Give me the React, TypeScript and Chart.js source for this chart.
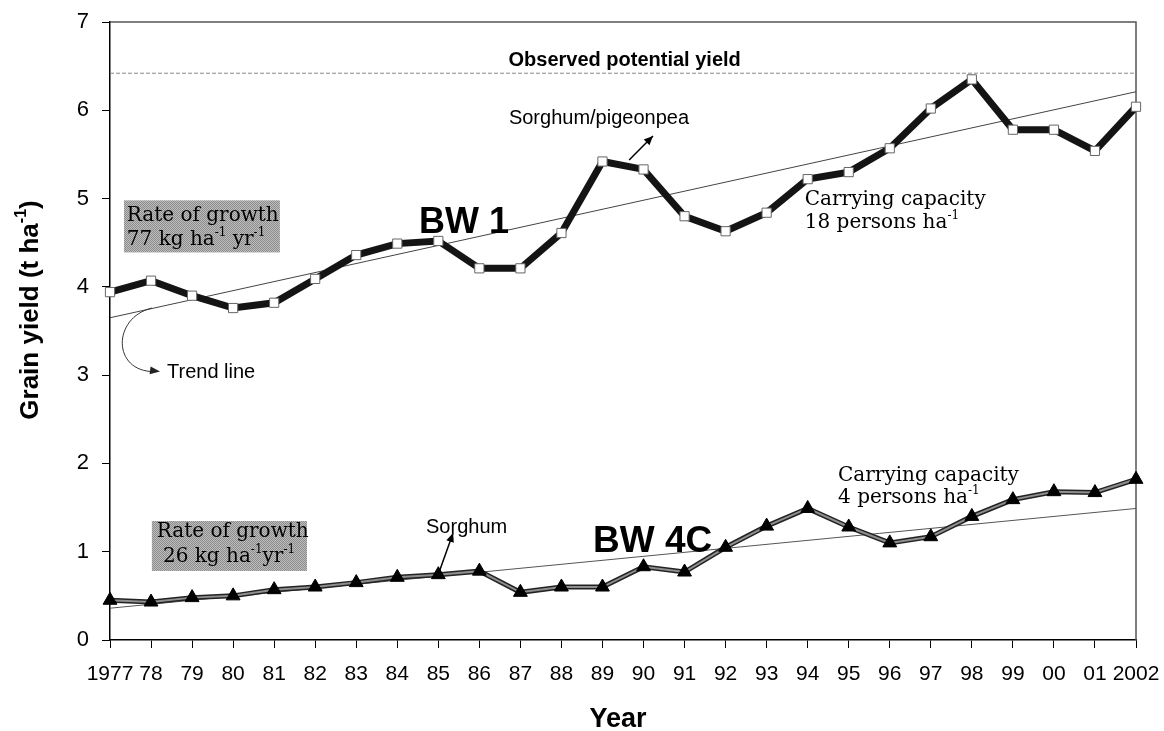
import React, { useEffect, useRef } from 'react';
import { Chart, registerables } from 'chart.js';

Chart.register(...registerables);

// ---------- data ----------
const years = [1977, 1978, 1979, 1980, 1981, 1982, 1983, 1984, 1985, 1986, 1987, 1988, 1989, 1990, 1991, 1992, 1993, 1994, 1995, 1996, 1997, 1998, 1999, 2000, 2001, 2002];
const yearLabels = ['1977', '78', '79', '80', '81', '82', '83', '84', '85', '86', '87', '88', '89', '90', '91', '92', '93', '94', '95', '96', '97', '98', '99', '00', '01', '2002'];
const bw1 = [3.94, 4.07, 3.90, 3.76, 3.82, 4.09, 4.36, 4.49, 4.52, 4.21, 4.21, 4.61, 5.42, 5.33, 4.80, 4.63, 4.84, 5.22, 5.30, 5.57, 6.02, 6.35, 5.78, 5.78, 5.54, 6.04];
const bw4c = [0.45, 0.43, 0.48, 0.50, 0.57, 0.60, 0.65, 0.71, 0.74, 0.78, 0.54, 0.60, 0.60, 0.83, 0.77, 1.05, 1.29, 1.49, 1.28, 1.10, 1.17, 1.40, 1.59, 1.68, 1.67, 1.82];
const trendYears = [1977, 2002];
const bw1Trend = [3.65, 6.21];
const bw4cTrend = [0.36, 1.49];
const potentialYield = 6.42;
const yTickValues = [0, 1, 2, 3, 4, 5, 6, 7];

const SANS = '"Liberation Sans", Arial, sans-serif';
const SERIF = '"DejaVu Serif", serif';

type Seg = { t: string; sup?: boolean };

function drawRich(ctx: CanvasRenderingContext2D, segs: Seg[], x: number, y: number, size: number, family: string, weight: string, align: 'left' | 'center' = 'left') {
  const main = `${weight} ${size}px ${family}`;
  const sup = `${weight} ${Math.round(size * 0.6)}px ${family}`;
  let w = 0;
  for (const s of segs) {
    ctx.font = s.sup ? sup : main;
    w += ctx.measureText(s.t).width;
  }
  let cx = align === 'center' ? x - w / 2 : x;
  ctx.textAlign = 'left';
  for (const s of segs) {
    ctx.font = s.sup ? sup : main;
    ctx.fillText(s.t, cx, s.sup ? y - size * 0.45 : y);
    cx += ctx.measureText(s.t).width;
  }
}

function arrowHead(ctx: CanvasRenderingContext2D, x0: number, y0: number, x1: number, y1: number, len = 9, half = 4) {
  const a = Math.atan2(y1 - y0, x1 - x0);
  ctx.beginPath();
  ctx.moveTo(x1, y1);
  ctx.lineTo(x1 - len * Math.cos(a) + half * Math.sin(a), y1 - len * Math.sin(a) - half * Math.cos(a));
  ctx.lineTo(x1 - len * Math.cos(a) - half * Math.sin(a), y1 - len * Math.sin(a) + half * Math.cos(a));
  ctx.closePath();
  ctx.fill();
}

let hatch: CanvasPattern | null = null;
function getHatch(ctx: CanvasRenderingContext2D) {
  if (hatch) return hatch;
  const c = document.createElement('canvas');
  c.width = 2; c.height = 2;
  const g = c.getContext('2d')!;
  g.fillStyle = '#bdbdbd'; g.fillRect(0, 0, 2, 2);
  g.fillStyle = '#8c8c8c'; g.fillRect(0, 0, 1, 1); g.fillRect(1, 1, 1, 1);
  hatch = ctx.createPattern(c, 'repeat');
  return hatch!;
}

const annotPlugin = {
  id: 'annot',
  beforeDatasetsDraw(chart: any) {
    const { ctx, chartArea: a } = chart;
    ctx.save();
    ctx.strokeStyle = '#555';
    ctx.lineWidth = 1.5;
    ctx.beginPath();
    ctx.moveTo(a.left, a.top);
    ctx.lineTo(a.right, a.top);
    ctx.lineTo(a.right, a.bottom);
    ctx.stroke();
    ctx.restore();
  },
  afterDatasetsDraw(chart: any) {
    const { ctx } = chart;
    const xs = chart.scales.x;
    const ys = chart.scales.y;
    const X = (v: number) => xs.getPixelForValue(v);
    const Y = (v: number) => ys.getPixelForValue(v);
    ctx.save();
    ctx.fillStyle = '#000';
    ctx.strokeStyle = '#000';
    ctx.textBaseline = 'alphabetic';

    // shaded boxes
    ctx.fillStyle = getHatch(ctx);
    ctx.fillRect(X(1977.34), Y(4.98), X(1981.14) - X(1977.34), Y(4.39) - Y(4.98));
    ctx.fillRect(X(1978.02), Y(1.348), X(1981.80) - X(1978.02), Y(0.782) - Y(1.348));
    ctx.fillStyle = '#000';

    // box texts
    drawRich(ctx, [{ t: 'Rate of growth' }], X(1977.41), Y(4.746), 20, SERIF, 'normal');
    drawRich(ctx, [{ t: '77 kg ha' }, { t: '-1' , sup: true }, { t: ' yr' }, { t: '-1', sup: true }], X(1977.41), Y(4.474), 20, SERIF, 'normal');
    drawRich(ctx, [{ t: 'Rate of growth' }], X(1978.14), Y(1.167), 20, SERIF, 'normal');
    drawRich(ctx, [{ t: '26 kg ha' }, { t: '-1', sup: true }, { t: 'yr' }, { t: '-1', sup: true }], X(1978.29), Y(0.883), 20, SERIF, 'normal');

    // carrying capacity
    drawRich(ctx, [{ t: 'Carrying capacity' }], X(1993.93), Y(4.927), 20, SERIF, 'normal');
    drawRich(ctx, [{ t: '18 persons ha' }, { t: '-1', sup: true }], X(1993.93), Y(4.667), 20, SERIF, 'normal');
    drawRich(ctx, [{ t: 'Carrying capacity' }], X(1994.74), Y(1.80), 20, SERIF, 'normal');
    drawRich(ctx, [{ t: '4 persons ha' }, { t: '-1', sup: true }], X(1994.74), Y(1.55), 20, SERIF, 'normal');

    // sans labels
    drawRich(ctx, [{ t: 'Observed potential yield' }], X(1989.54), Y(6.50), 20, SANS, 'bold', 'center');
    drawRich(ctx, [{ t: 'Sorghum/pigeonpea' }], X(1986.72), Y(5.845), 20, SANS, 'normal');
    drawRich(ctx, [{ t: 'BW 1' }], X(1984.53), Y(4.61), 36, SANS, 'bold');
    drawRich(ctx, [{ t: 'BW 4C' }], X(1988.77), Y(0.997), 37, SANS, 'bold');
    drawRich(ctx, [{ t: 'Sorghum' }], X(1984.70), Y(1.212), 20, SANS, 'normal');
    drawRich(ctx, [{ t: 'Trend line' }], X(1978.39), Y(2.967), 20, SANS, 'normal');

    // straight arrows
    ctx.lineWidth = 1.5;
    const arrows = [
      [1989.65, 5.437, 1990.23, 5.709],
      [1985.02, 0.770, 1985.36, 1.212],
    ];
    for (const [a, b, c, d] of arrows) {
      ctx.beginPath();
      ctx.moveTo(X(a), Y(b));
      ctx.lineTo(X(c), Y(d));
      ctx.stroke();
      arrowHead(ctx, X(a), Y(b), X(c), Y(d), 9, 4);
    }

    // curved arrow to trend line
    ctx.lineWidth = 1;
    ctx.strokeStyle = '#333';
    const p0 = [X(1978.02), Y(3.76)];
    const p1 = [X(1977.05), Y(3.65)];
    const p2 = [X(1977.05), Y(3.04)];
    const p3 = [X(1978.17), Y(3.04)];
    ctx.beginPath();
    ctx.moveTo(p0[0], p0[1]);
    ctx.bezierCurveTo(p1[0], p1[1], p2[0], p2[1], p3[0] - 4, p3[1]);
    ctx.stroke();
    ctx.fillStyle = '#222';
    arrowHead(ctx, p2[0], p2[1] - 6, p3[0] + 2, p3[1], 10, 4);

    // axis titles
    ctx.fillStyle = '#000';
    drawRich(ctx, [{ t: 'Year' }], 618, 727, 27, SANS, 'bold', 'center');
    ctx.translate(38, 310);
    ctx.rotate(-Math.PI / 2);
    drawRich(ctx, [{ t: 'Grain yield (t ha' }, { t: '-1', sup: true }, { t: ')' }], 0, 0, 26, SANS, 'bold', 'center');
    ctx.restore();
  },
};

export default function App() {
  const ref = useRef<HTMLCanvasElement>(null);
  useEffect(() => {
    const pts = (ys: number[], xs: number[]) => xs.map((x, i) => ({ x, y: ys[i] }));
    const chart = new Chart(ref.current!, {
      type: 'line',
      data: {
        datasets: [
          {
            label: 'BW 1',
            data: pts(bw1, years),
            borderColor: '#141414',
            borderWidth: 7,
            pointStyle: 'rect',
            pointRadius: 6.5,
            pointBackgroundColor: '#fff',
            pointBorderColor: '#666',
            pointBorderWidth: 1,
            tension: 0,
            clip: false,
            order: 0,
          },
          {
            label: 'BW 4C',
            data: pts(bw4c, years),
            borderColor: '#8e8e8e',
            borderWidth: 2,
            pointStyle: 'triangle',
            pointRadius: 8,
            pointBackgroundColor: '#000',
            pointBorderColor: '#000',
            pointBorderWidth: 1,
            tension: 0,
            clip: false,
            order: 1,
          },
          {
            label: 'BW 4C edge',
            data: pts(bw4c, years),
            borderColor: '#222',
            borderWidth: 5,
            pointRadius: 0,
            tension: 0,
            clip: false,
            order: 2,
          },
          {
            label: 'BW 1 trend',
            data: pts(bw1Trend, trendYears),
            borderColor: '#444',
            borderWidth: 1,
            pointRadius: 0,
            order: 3,
          },
          {
            label: 'BW 4C trend',
            data: pts(bw4cTrend, trendYears),
            borderColor: '#555',
            borderWidth: 1,
            pointRadius: 0,
            order: 3,
          },
          {
            label: 'Observed potential yield',
            data: pts([potentialYield, potentialYield], trendYears),
            borderColor: '#8a8a8a',
            borderWidth: 1,
            borderDash: [4, 2],
            pointRadius: 0,
            order: 4,
          },
        ],
      },
      options: {
        animation: false,
        responsive: false,
        events: [],
        layout: { padding: { left: 0, top: 22, right: 28, bottom: 0 } },
        plugins: { legend: { display: false }, tooltip: { enabled: false } },
        scales: {
          x: {
            type: 'linear',
            min: 1977,
            max: 2002,
            afterFit: (s: any) => { s.height = 91; s.paddingLeft = 0; s.paddingRight = 0; },
            afterBuildTicks: (s: any) => { s.ticks = years.map((v) => ({ value: v })); },
            ticks: {
              autoSkip: false,
              maxRotation: 0,
              padding: 14,
              color: '#000',
              font: { family: SANS, size: 21 },
              callback: (v: any) => yearLabels[years.indexOf(Number(v))] ?? '',
            },
            grid: { drawOnChartArea: false, drawTicks: true, tickLength: 8, color: '#000', lineWidth: 1 },
            border: { display: true, color: '#000', width: 1.5 },
          },
          y: {
            type: 'linear',
            min: 0,
            max: 7,
            afterFit: (s: any) => { s.width = 110; s.paddingTop = 0; s.paddingBottom = 0; },
            afterBuildTicks: (s: any) => { s.ticks = yTickValues.map((v) => ({ value: v })); },
            ticks: {
              padding: 13,
              color: '#000',
              font: { family: SANS, size: 22 },
              callback: (v: any) => String(v),
            },
            grid: { drawOnChartArea: false, drawTicks: true, tickLength: 8, color: '#000', lineWidth: 1 },
            border: { display: true, color: '#000', width: 1.5 },
          },
        },
      },
      plugins: [annotPlugin],
    } as any);
    return () => chart.destroy();
  }, []);
  return (
    <div style={{ position: 'absolute', left: 0, top: 0, width: 1164, height: 731, background: '#fff' }}>
      <canvas ref={ref} width={1164} height={731} style={{ display: 'block', width: 1164, height: 731 }} />
    </div>
  );
}
